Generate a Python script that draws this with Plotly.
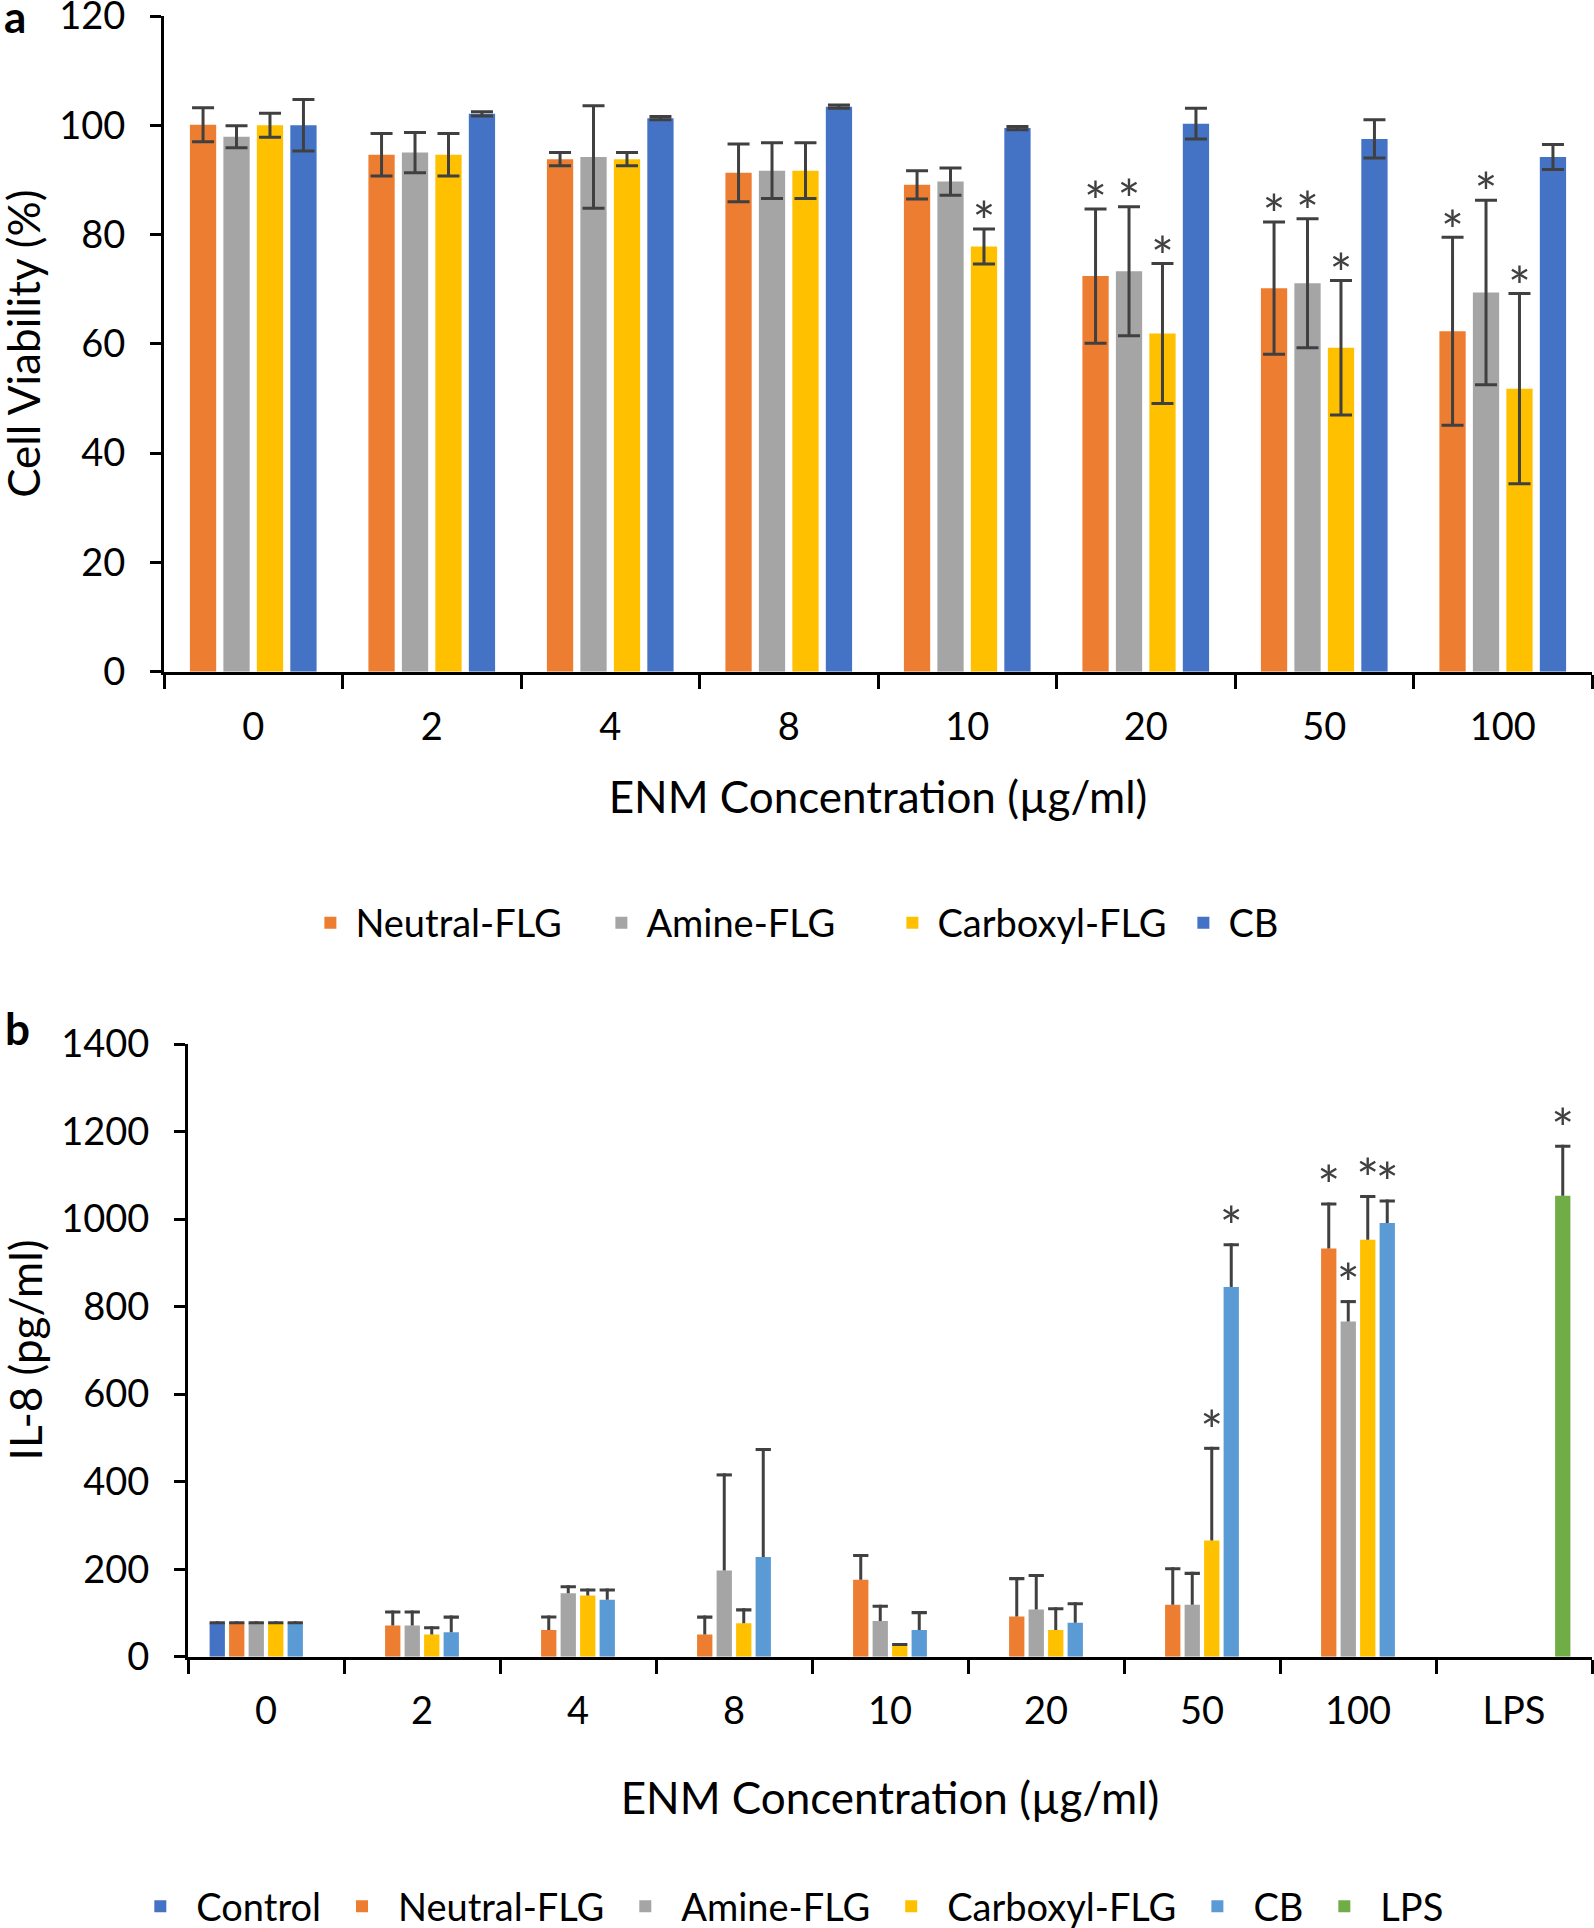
import plotly.graph_objects as go

# ---------------- Panel a data: Cell viability (%) ----------------
categories_a = ["0", "2", "4", "8", "10", "20", "50", "100"]
neutral_a = [100.1, 94.6, 93.8, 91.3, 89.1, 72.4, 70.2, 62.3]
neutral_a_err = [3.1, 3.9, 1.2, 5.3, 2.6, 12.3, 12.1, 17.2]
neutral_a_star = [0, 0, 0, 0, 0, 1, 1, 1]
amine_a = [97.9, 95.0, 94.2, 91.7, 89.7, 73.3, 71.1, 69.4]
amine_a_err = [2.0, 3.7, 9.4, 5.1, 2.5, 11.8, 11.8, 16.9]
amine_a_star = [0, 0, 0, 0, 0, 1, 1, 1]
carboxyl_a = [100.0, 94.6, 93.8, 91.7, 77.8, 61.9, 59.3, 51.8]
carboxyl_a_err = [2.2, 3.9, 1.2, 5.1, 3.2, 12.8, 12.3, 17.4]
carboxyl_a_star = [0, 0, 0, 0, 1, 1, 1, 1]
cb_a = [100.0, 102.1, 101.3, 103.4, 99.5, 100.3, 97.5, 94.2]
cb_a_err = [4.7, 0.4, 0.3, 0.3, 0.3, 2.8, 3.5, 2.3]
cb_a_star = [0, 0, 0, 0, 0, 0, 0, 0]

# ---------------- Panel b data: IL-8 (pg/ml) ----------------
categories_b = ["0", "2", "4", "8", "10", "20", "50", "100", "LPS"]
control_b = [77, None, None, None, None, None, None, None, None]
control_b_err = [4, None, None, None, None, None, None, None, None]
control_b_star = [0, 0, 0, 0, 0, 0, 0, 0, 0]
neutral_b = [77, 71.5, 61.3, 51, 175.8, 92, 118.5, 933, None]
neutral_b_err = [4, 34, 33, 43, 59, 90, 86, 105, None]
neutral_b_star = [0, 0, 0, 0, 0, 0, 0, 1, 0]
amine_b = [77, 71.5, 145, 197, 81.7, 108, 118.5, 766, None]
amine_b_err = [4, 34, 18.5, 222, 37, 81, 75.5, 49, None]
amine_b_star = [0, 0, 0, 0, 0, 0, 0, 1, 0]
carboxyl_b = [77, 51, 140, 76.6, 25.5, 61.3, 265.7, 953, None]
carboxyl_b_err = [4, 18.5, 16, 34, 6, 52, 214, 102, None]
carboxyl_b_star = [0, 0, 0, 0, 0, 0, 1, 1, 0]
cb_b = [77, 56, 130, 228, 61.3, 77.7, 845, 991, None]
cb_b_err = [4, 38, 26, 249, 43, 47, 100, 54, None]
cb_b_star = [0, 0, 0, 0, 0, 0, 1, 1, 0]
lps_b = [None, None, None, None, None, None, None, None, 1053.5]
lps_b_err = [None, None, None, None, None, None, None, None, 116.5]
lps_b_star = [0, 0, 0, 0, 0, 0, 0, 0, 1]

FONT = "Lato"
ERR = "#404040"
W = 1594
REF_H = 1928          # layout positions below are given on this height
H = 1938              # canvas height
TICK_FONT = dict(family=FONT, size=38, color="black")
TITLE_FONT = dict(family=FONT, size=44, color="black")
STAR_FONT = dict(family=FONT, size=54, color=ERR)


def fy(px):
    """paper fraction for a vertical position measured from the top"""
    return 1 - px / REF_H


fig = go.Figure()

series_a = [
    ("Neutral-FLG", neutral_a, neutral_a_err, neutral_a_star, "#ED7D31"),
    ("Amine-FLG", amine_a, amine_a_err, amine_a_star, "#A5A5A5"),
    ("Carboxyl-FLG", carboxyl_a, carboxyl_a_err, carboxyl_a_star, "#FFC000"),
    ("CB", cb_a, cb_a_err, cb_a_star, "#4472C4"),
]
STAR_H_A = 0.5     # height of invisible label carrier (axis units)
STAR_DROP_A = 5.5  # label carrier sits slightly below the error-bar top
for name, vals, errs, stars, color in series_a:
    grp = "a_" + name
    fig.add_trace(go.Bar(
        x=categories_a, y=vals, name=name, offsetgroup=grp,
        marker=dict(color=color, line=dict(width=0)),
        error_y=dict(type="data", array=errs, visible=True, color=ERR,
                     thickness=3, width=11),
        xaxis="x", yaxis="y", legend="legend", hoverinfo="skip"))
    fig.add_trace(go.Bar(
        x=categories_a, y=[STAR_H_A] * len(vals),
        base=[v + e - STAR_DROP_A for v, e in zip(vals, errs)],
        marker=dict(color="rgba(0,0,0,0)", line=dict(width=0)),
        text=["*" if s else "" for s in stars], textposition="outside",
        constraintext="none", cliponaxis=False, textangle=0,
        textfont=STAR_FONT,
        offsetgroup=grp, showlegend=False, hoverinfo="skip",
        xaxis="x", yaxis="y"))

series_b = [
    ("Control", control_b, control_b_err, control_b_star, "#4472C4"),
    ("Neutral-FLG", neutral_b, neutral_b_err, neutral_b_star, "#ED7D31"),
    ("Amine-FLG", amine_b, amine_b_err, amine_b_star, "#A5A5A5"),
    ("Carboxyl-FLG", carboxyl_b, carboxyl_b_err, carboxyl_b_star, "#FFC000"),
    ("CB", cb_b, cb_b_err, cb_b_star, "#5B9BD5"),
    ("LPS", lps_b, lps_b_err, lps_b_star, "#70AD47"),
]
CAP_H_B = 7       # error-bar cap thickness (axis units)
STAR_H_B = 1
STAR_DROP_B = 42
for name, vals, errs, stars, color in series_b:
    grp = "b_" + name
    fig.add_trace(go.Bar(
        x=categories_b, y=vals, name=name, offsetgroup=grp,
        marker=dict(color=color, line=dict(width=0)),
        error_y=dict(type="data", symmetric=False, array=errs,
                     arrayminus=[0 if v is not None else None for v in vals],
                     visible=True, color=ERR, thickness=3, width=0),
        xaxis="x2", yaxis="y2", legend="legend2", hoverinfo="skip"))
    fig.add_trace(go.Bar(
        x=categories_b,
        y=[CAP_H_B if v is not None else None for v in vals],
        base=[(v + e - CAP_H_B) if v is not None else None for v, e in zip(vals, errs)],
        marker=dict(color=ERR, line=dict(width=0)),
        offsetgroup=grp, showlegend=False, hoverinfo="skip",
        xaxis="x2", yaxis="y2"))
    fig.add_trace(go.Bar(
        x=categories_b,
        y=[STAR_H_B if v is not None else None for v in vals],
        base=[(v + e - STAR_DROP_B) if v is not None else None for v, e in zip(vals, errs)],
        marker=dict(color="rgba(0,0,0,0)", line=dict(width=0)),
        text=["*" if s else "" for s in stars], textposition="outside",
        constraintext="none", cliponaxis=False, textangle=0,
        textfont=STAR_FONT,
        offsetgroup=grp, showlegend=False, hoverinfo="skip",
        xaxis="x2", yaxis="y2"))

axis_common = dict(showline=True, linecolor="black", linewidth=3,
                   ticks="outside", tickcolor="black", tickwidth=3,
                   showgrid=False, zeroline=False, automargin=False,
                   ticklabeloverflow="allow", tickfont=TICK_FONT)

fig.update_layout(
    width=W, height=H, template="none",
    margin=dict(l=0, r=0, t=0, b=0),
    paper_bgcolor="white", plot_bgcolor="white",
    barmode="group", bargap=0.25, bargroupgap=0.215,
    font=dict(family=FONT, color="black"),
    xaxis=dict(domain=[164 / W, 1592 / W], anchor="y", type="category",
               tickson="boundaries", ticklen=14, ticklabelstandoff=20,
               title=dict(text="ENM Concentration (µg/ml)", font=TITLE_FONT,
                          standoff=35),
               **axis_common),
    yaxis=dict(domain=[fy(671), fy(16)], anchor="x", range=[0, 120],
               dtick=20, ticklen=11, ticklabelstandoff=17,
               **axis_common),
    xaxis2=dict(domain=[188 / W, 1592 / W], anchor="y2", type="category",
                tickson="boundaries", ticklen=14, ticklabelstandoff=19,
                title=dict(text="ENM Concentration (µg/ml)", font=TITLE_FONT,
                           standoff=52),
                **axis_common),
    yaxis2=dict(domain=[fy(1655), fy(1043)], anchor="x2", range=[0, 1400],
                dtick=200, ticklen=11, ticklabelstandoff=17,
                **axis_common),
    legend=dict(orientation="h", x=0.5567, xanchor="center",
                y=fy(922), yanchor="middle", itemwidth=40,
                entrywidth=236, entrywidthmode="pixels",
                font=dict(family=FONT, size=38, color="black"),
                bgcolor="rgba(0,0,0,0)", traceorder="normal"),
    legend2=dict(orientation="h", x=0.4933, xanchor="center",
                 y=fy(1905), yanchor="middle", itemwidth=62,
                 font=dict(family=FONT, size=38, color="black"),
                 bgcolor="rgba(0,0,0,0)", traceorder="normal"),
    annotations=[
        dict(text="<b>a</b>", x=15 / W, y=fy(16), xref="paper", yref="paper",
             xanchor="center", yanchor="middle", showarrow=False,
             font=dict(family=FONT, size=44, color="black")),
        dict(text="<b>b</b>", x=17 / W, y=fy(1027), xref="paper", yref="paper",
             xanchor="center", yanchor="middle", showarrow=False,
             font=dict(family=FONT, size=44, color="black")),
        # rotated y-axis titles
        dict(text="Cell Viability (%)", x=23 / W, y=fy(343.5),
             xref="paper", yref="paper", xanchor="center", yanchor="middle",
             textangle=-90, showarrow=False, font=TITLE_FONT),
        dict(text="IL-8 (pg/ml)", x=25 / W, y=fy(1349),
             xref="paper", yref="paper", xanchor="center", yanchor="middle",
             textangle=-90, showarrow=False, font=TITLE_FONT),
    ],
)

fig.write_html(
    "out.html",
    config={"displayModeBar": False},
    post_script=("document.documentElement.style.margin='0px';"
                 "document.body.style.margin='0px';"
                 "document.documentElement.style.overflow='hidden';"
                 "document.body.style.overflow='hidden';"),
)
